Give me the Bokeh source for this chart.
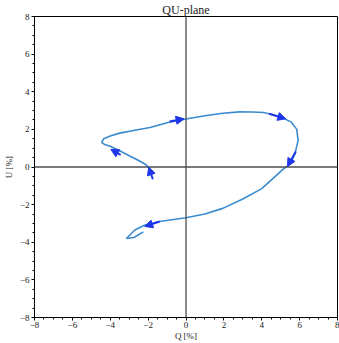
from bokeh.plotting import figure
from bokeh.models import Arrow, NormalHead, Span, FixedTicker, ColumnDataSource, Range1d
from bokeh.embed import file_html
from bokeh.resources import INLINE

# Path of the polarisation angle in the QU-plane
q_path = [-1.95, -2.15, -2.6, -3.0, -3.5, -4.0, -4.3, -4.45, -4.35, -4.0, -3.5, -2.7,
          -1.9, -1.0, 0.0, 1.0, 1.94, 2.82, 3.5, 4.1, 4.6, 5.1, 5.54, 5.85, 5.92,
          5.75, 5.5, 5.15, 4.6, 4.0, 3.0, 1.94, 1.0, 0.0, -1.4, -2.2, -2.7, -3.15,
          -2.75, -2.25]
u_path = [-0.05, 0.15, 0.4, 0.6, 0.86, 1.1, 1.2, 1.3, 1.5, 1.65, 1.8, 1.95,
          2.1, 2.35, 2.55, 2.72, 2.86, 2.93, 2.92, 2.9, 2.78, 2.62, 2.4, 2.0, 1.4,
          0.7, 0.15, -0.1, -0.6, -1.15, -1.7, -2.2, -2.5, -2.7, -2.9, -3.1, -3.35, -3.8,
          -3.75, -3.45]

# Direction arrows (tail -> head)
arrow_q0 = [-1.75, -3.45, -0.87, 4.39, 5.80, -1.39]
arrow_u0 = [-0.65, 0.64, 2.42, 2.83, 0.82, -2.90]
arrow_q1 = [-1.97, -3.97, -0.10, 5.27, 5.36, -2.18]
arrow_u1 = [0.00, 0.94, 2.56, 2.56, 0.03, -3.16]

ticks = [-8, -6, -4, -2, 0, 2, 4, 6, 8]
tick_labels = ["\u22128", "\u22126", "\u22124", "\u22122", "0", "2", "4", "6", "8"]

FONT = "Liberation Serif"

p = figure(width=339, height=343, output_backend="svg", toolbar_location=None,
           x_range=Range1d(-8, 8), y_range=Range1d(-8, 8),
           min_border_left=33, min_border_right=2, min_border_bottom=0, min_border_top=0,
           title="QU-plane")
p.title.align = "center"
p.title.text_font = FONT
p.title.text_font_size = "12px"
p.title.text_font_style = "normal"
p.title.text_color = "#222222"
p.title.standoff = 0
p.title.offset = 0

p.grid.visible = False
p.outline_line_color = "black"
p.outline_line_width = 1
p.background_fill_color = "white"
p.border_fill_color = "white"

overrides = {t: l for t, l in zip(ticks, tick_labels)}
for ax in (p.xaxis[0], p.yaxis[0]):
    ax.ticker = FixedTicker(ticks=ticks,
                            minor_ticks=[t / 2 for t in range(-16, 17)])
    ax.major_label_overrides = overrides
    ax.major_label_text_font = FONT
    ax.major_label_text_font_size = "9px"
    ax.major_label_text_color = "#222222"
    ax.axis_label_text_font = FONT
    ax.axis_label_text_font_size = "9px"
    ax.axis_label_text_font_style = "normal"
    ax.axis_label_text_color = "#222222"
    ax.major_tick_in = 0
    ax.major_tick_out = 3
    ax.minor_tick_in = 0
    ax.minor_tick_out = 2
    ax.axis_line_color = "black"
    ax.major_tick_line_color = "black"
    ax.minor_tick_line_color = "black"
    ax.major_label_standoff = 1
    ax.axis_label_standoff = 0

p.yaxis[0].major_label_standoff = 2
p.yaxis[0].axis_label_standoff = 3
p.xaxis.axis_label = "Q [%]"
p.yaxis.axis_label = "U [%]"
p.yaxis.major_label_orientation = "horizontal"

p.add_layout(Span(location=0, dimension="width", line_color="#4d4d4d", line_width=1.3))
p.add_layout(Span(location=0, dimension="height", line_color="#4d4d4d", line_width=1.3))

p.line(q_path, u_path, line_color="#3a8bd0", line_width=1.6)

src = ColumnDataSource(dict(x0=arrow_q0, y0=arrow_u0, x1=arrow_q1, y1=arrow_u1))
p.add_layout(Arrow(source=src, x_start="x0", y_start="y0", x_end="x1", y_end="y1",
                   line_color="#1f35e8", line_width=2,
                   end=NormalHead(size=8, fill_color="#1f35e8", line_color="#1f35e8")))

open("out.html", "w").write(file_html(p, INLINE))
